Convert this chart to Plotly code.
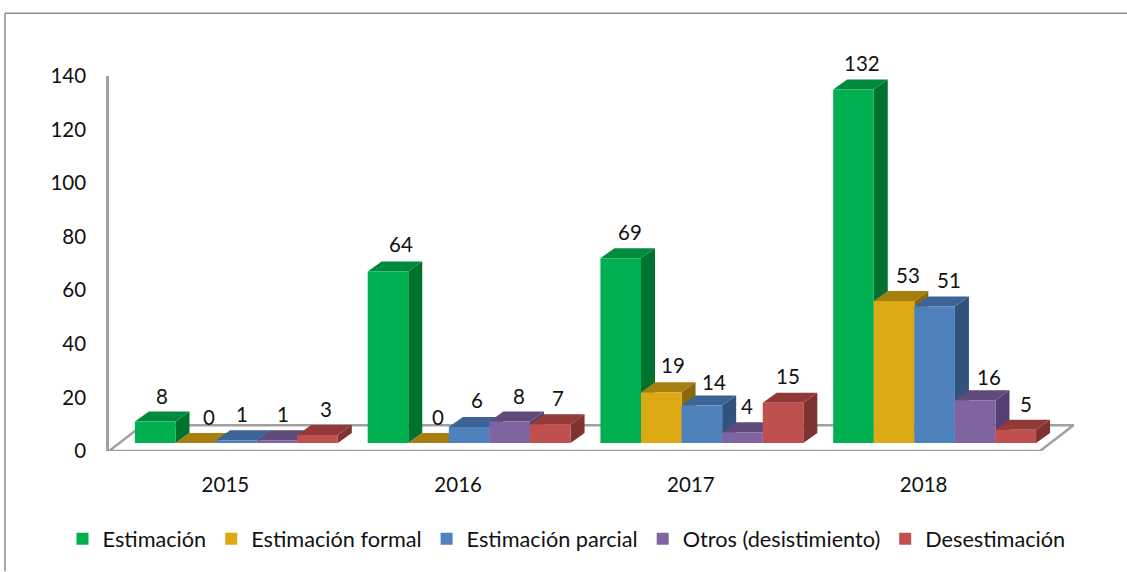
import plotly.graph_objects as go

years = ["2015", "2016", "2017", "2018"]
y_ticks = [0, 20, 40, 60, 80, 100, 120, 140]
series_names = ["Estimación", "Estimación formal", "Estimación parcial", "Otros (desistimiento)", "Desestimación"]
estimacion = [8, 64, 69, 132]
estimacion_formal = [0, 0, 19, 53]
estimacion_parcial = [1, 6, 14, 51]
otros = [1, 8, 4, 16]
desestimacion = [3, 7, 15, 5]
values = [estimacion, estimacion_formal, estimacion_parcial, otros, desestimacion]

# --- styling (not data) ---
front = ["#00B050", "#DCA915", "#4F81BD", "#8064A2", "#C0504D"]
top_c = ["#008A3E", "#A67F10", "#3C6496", "#604A7B", "#923A38"]
side_c = ["#00722F", "#8A6A0D", "#31527C", "#553F73", "#7F3331"]
GREY = "#A0A0A0"
FONT = "Lato"

W, H = 1127, 572
PL, PR, PT, PB = 108.5, 1074.0, 75.5, 451.5      # plot area in page pixels
CAT_PX = 232.875
PX_Y = (PB - PT) / 140
px_x = lambda p: p / CAT_PX
px_y = lambda p: p / PX_Y

BAR_W = px_x(40.6)
BAR_START = px_x(-90.5)
DX, DY = px_x(14), px_y(10)
BASE = px_y(8)
FLOOR_DX, FLOOR_DY = px_x(33.5), px_y(25.8)
X0, X1 = -0.5, 3.5 + px_x(34)

# label nudges in pixels, per series then per year
xshift = [[6.5, 13.5, 9, 9], [13, 9, 12, 14], [6, 8, 12, 14], [6, 9, 5, 14], [8, 8, 5, 10]]
yshift = [[0, 2, 0, 0], [0, 0, 1, 0], [0, 1, -2, 0.5], [0, 0, 0, -2.5], [0, 0, 1, 0]]

paper_x = lambda p: (p - PL) / (PR - PL)
paper_y = lambda p: (PB - p) / (PB - PT)

shapes = []
line = dict(color=GREY, width=2.5)
# page frame
for x0, y0, x1, y1 in [(4.5, 12.5, W, 12.5), (4.5, 12.5, 4.5, H)]:
    shapes.append(dict(type="line", xref="paper", yref="paper", x0=paper_x(x0), x1=paper_x(x1),
                       y0=paper_y(y0), y1=paper_y(y1), line=dict(color="#8C8C8C", width=1.5), layer="below"))
# floor
shapes.append(dict(type="path", xref="x", yref="y", layer="below", line=line, fillcolor="white",
                   path=f"M{X0},0 L3.5,0 L{3.5 + FLOOR_DX},{FLOOR_DY} L{X0 + FLOOR_DX},{FLOOR_DY} Z"))

# depth faces, painted left to right beneath the bars
for c in range(len(years)):
    for s, vals in enumerate(values):
        L = c + BAR_START + s * BAR_W
        R = L + BAR_W
        t = BASE + vals[c]
        shapes.append(dict(type="path", xref="x", yref="y", layer="below", line=dict(width=0), fillcolor=side_c[s],
                           path=f"M{R},{BASE} L{R + DX},{BASE + DY} L{R + DX},{t + DY} L{R},{t} Z"))
        shapes.append(dict(type="path", xref="x", yref="y", layer="below", line=dict(width=0), fillcolor=top_c[s],
                           path=f"M{L},{t} L{L + DX},{t + DY} L{R + DX},{t + DY} L{R},{t} Z"))

fig = go.Figure()
annotations = []
for s, (name, vals) in enumerate(zip(series_names, values)):
    fig.add_trace(go.Bar(
        name=name, x=list(range(len(years))), y=vals, base=BASE,
        width=BAR_W, offset=BAR_START + s * BAR_W,
        marker=dict(color=front[s], line=dict(width=0)),
    ))
    for c, v in enumerate(vals):
        annotations.append(dict(
            x=c + BAR_START + (s + 0.5) * BAR_W, y=BASE + v, xref="x", yref="y",
            text=str(v), showarrow=False, xanchor="center", yanchor="bottom",
            xshift=xshift[s][c], yshift=13 + yshift[s][c], borderpad=0,
            font=dict(family=FONT, size=20.5, color="#111111"),
        ))

fig.update_layout(
    width=W, height=H, barmode="overlay",
    margin=dict(l=PL, r=W - PR, t=PT, b=H - PB, pad=0, autoexpand=False),
    paper_bgcolor="white", plot_bgcolor="rgba(0,0,0,0)",
    font=dict(family=FONT, size=20.5, color="#111111"),
    shapes=shapes, annotations=annotations,
    xaxis=dict(range=[X0, X1], tickmode="array", tickvals=list(range(len(years))), ticktext=years,
               showgrid=False, zeroline=False, showline=False, ticks="", ticklabelstandoff=19,
               fixedrange=True),
    yaxis=dict(range=[0, 140], tickmode="array", tickvals=y_ticks, showgrid=False, zeroline=False,
               showline=True, linecolor=GREY, linewidth=2.5, ticks="", ticklabelstandoff=16,
               fixedrange=True),
    legend=dict(orientation="h", xref="paper", yref="paper", x=paper_x(62), y=paper_y(540),
                xanchor="left", yanchor="middle", bgcolor="rgba(0,0,0,0)", traceorder="normal",
                font=dict(family=FONT, size=21.7, color="#111111")),
    showlegend=True,
)

fig.write_html("out.html", post_script="document.body.style.margin='0';document.documentElement.style.overflow='hidden';",
               config=dict(displayModeBar=False))
